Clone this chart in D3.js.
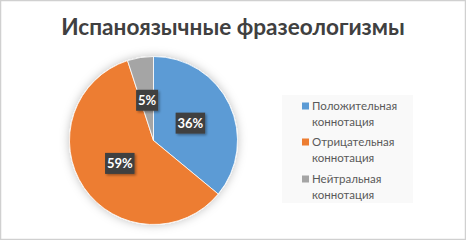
<!DOCTYPE html>
<html><head><meta charset="utf-8">
<script src="https://cdn.jsdelivr.net/npm/d3@7"></script>
<style>body{margin:0;background:#fff}svg{display:block}</style>
</head><body>
<script>
const categories = ["Положительная коннотация", "Отрицательная коннотация", "Нейтральная коннотация"];
const legendLines = [["Положительная", "коннотация"], ["Отрицательная", "коннотация"], ["Нейтральная", "коннотация"]];
const values = [36, 59, 5];
const labels = ["36%", "59%", "5%"];
const colors = ["#5b9bd5", "#ed7d31", "#a5a5a5"];
const title = "Испаноязычные фразеологизмы";

const W = 466, H = 240;
const svg = d3.select("body").append("svg").attr("width", W).attr("height", H);
const defs = svg.append("defs");
const f = defs.append("filter").attr("id","sh").attr("x","-30%").attr("y","-30%").attr("width","160%").attr("height","160%");
f.append("feDropShadow").attr("dx",0).attr("dy",0).attr("stdDeviation",5).attr("flood-color","#000").attr("flood-opacity",0.25);
const f2 = defs.append("filter").attr("id","lsh").attr("x","-30%").attr("y","-30%").attr("width","160%").attr("height","160%");
f2.append("feDropShadow").attr("dx",1.5).attr("dy",1.5).attr("stdDeviation",1.2).attr("flood-color","#000").attr("flood-opacity",0.35);

svg.append("rect").attr("x",0.5).attr("y",0.5).attr("width",W-1).attr("height",H-1)
  .attr("fill","#fff").attr("stroke","#d0d0d0").attr("stroke-width",1.5);

svg.append("text").attr("x",233).attr("y",35).attr("text-anchor","middle")
  .attr("font-family","Lato, 'Open Sans', sans-serif").attr("font-weight","bold")
  .attr("font-size",22.6).attr("fill","#404040").text(title);

const cx = 153.5, cy = 140.5, R = 84;
const pie = d3.pie().sort(null).value(d => d)(values);
const arc = d3.arc().innerRadius(0).outerRadius(R);
const labelArc = d3.arc().innerRadius(R*0.97).outerRadius(0);
const g = svg.append("g").attr("transform",`translate(${cx},${cy})`);
g.append("g").attr("filter","url(#sh)").selectAll("path").data(pie).join("path")
  .attr("d", arc).attr("fill",(d,i)=>colors[i]).attr("stroke","#fff").attr("stroke-width",0.8);

const lg = g.selectAll("g.lab").data(pie).join("g").attr("class","lab")
  .attr("transform", d => { const c = labelArc.centroid(d); return `translate(${c[0]},${c[1]})`; });
lg.each(function(d,i){
  const s = d3.select(this);
  const w = labels[i].length*7.5+7;
  s.append("rect").attr("x",-w/2).attr("y",-10.5).attr("width",w).attr("height",21)
    .attr("fill","#404040").attr("filter","url(#lsh)");
  s.append("text").attr("text-anchor","middle").attr("y",5)
    .attr("font-family","Lato, 'Open Sans', sans-serif").attr("font-weight","bold").attr("font-size",13)
    .attr("fill","#fff").text(labels[i]);
});

svg.append("rect").attr("x",282).attr("y",95).attr("width",131).attr("height",108).attr("fill","#f9f9f9");
const ly = [106, 142, 179];
const leg = svg.selectAll("g.leg").data(categories).join("g").attr("class","leg")
  .attr("transform",(d,i)=>`translate(302,${ly[i]})`);
leg.append("rect").attr("x",0).attr("y",-3.5).attr("width",7).attr("height",7).attr("fill",(d,i)=>colors[i]);
leg.each(function(d,i){
  const t = d3.select(this).append("text").attr("font-family","Lato, 'Open Sans', sans-serif")
    .attr("font-size",11.5).attr("fill","#595959");
  legendLines[i].forEach((ln,j)=>{
    t.append("tspan").attr("x",10).attr("y",4+j*15.5).text(ln);
  });
});
</script>
</body></html>
